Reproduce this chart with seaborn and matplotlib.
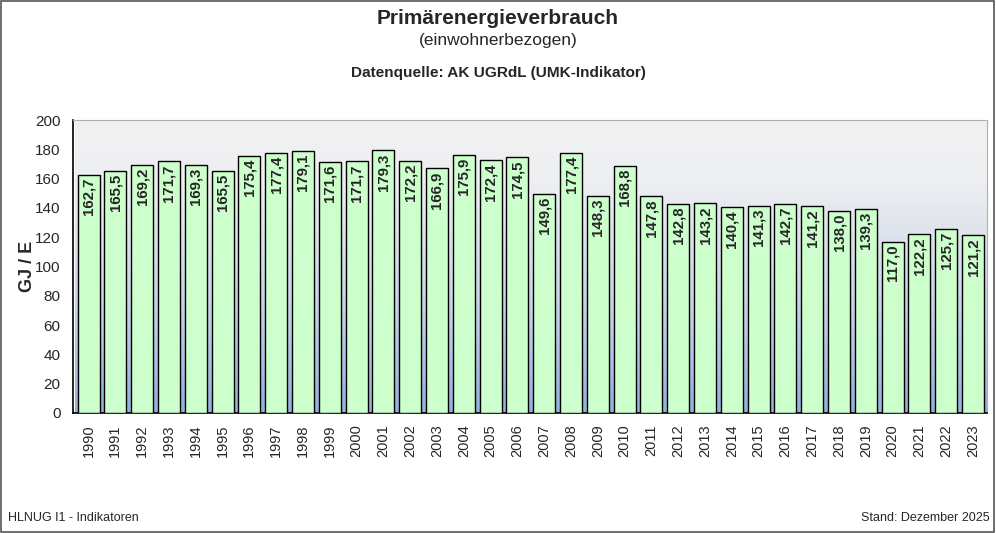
import numpy as np
import pandas as pd
import matplotlib
matplotlib.use("Agg")
import matplotlib.pyplot as plt
import seaborn as sns
from matplotlib.colors import LinearSegmentedColormap
from matplotlib.patches import Rectangle

years = [str(y) for y in range(1990, 2024)]
values = [162.7, 165.5, 169.2, 171.7, 169.3, 165.5, 175.4, 177.4, 179.1, 171.6,
          171.7, 179.3, 172.2, 166.9, 175.9, 172.4, 174.5, 149.6, 177.4, 148.3,
          168.8, 147.8, 142.8, 143.2, 140.4, 141.3, 142.7, 141.2, 138.0, 139.3,
          117.0, 122.2, 125.7, 121.2]
yticks = list(range(0, 201, 20))

sns.set_style("white")
plt.rcParams['font.family'] = ['Liberation Sans', 'DejaVu Sans']

fig = plt.figure(figsize=(9.96, 5.33), dpi=100)
ax = fig.add_axes([73/996, 1-413/533, (987-73)/996, (413-120)/533])

df = pd.DataFrame({"Jahr": years, "Wert": values})
sns.barplot(data=df, x="Jahr", y="Wert", color="#ccffcc", saturation=1,
            width=0.82, edgecolor="black", linewidth=1.0, ax=ax, zorder=3)

# background gradient
cmap = LinearSegmentedColormap.from_list("bg", [(0, "#94b0dc"), (0.35, "#c4d2e8"),
                                                 (0.6, "#dde3ec"), (0.8, "#eeeff2"), (1, "#f1f1f1")])
grad = np.linspace(0, 1, 256).reshape(-1, 1)
ax.imshow(grad, aspect="auto", cmap=cmap, origin="lower",
          extent=[-0.5, len(years) - 0.5, 0, 200], zorder=0)

ax.set_xlim(-0.58, len(years) - 0.48)
ax.set_ylim(0, 200)
ax.set_yticks(yticks)
ax.set_yticklabels([str(t) for t in yticks], fontsize=11)
ax.tick_params(axis="x", labelrotation=90, labelsize=10.5, direction="out", length=5, width=1, color="black", pad=3)
ax.tick_params(axis="y", direction="out", length=5, width=1, color="black", pad=4)
ax.set_xlabel("")
ax.set_ylabel("GJ / E", fontsize=13, fontweight="bold", labelpad=-1)

for s in ["top", "right"]:
    ax.spines[s].set_color("#b0b0b0")
for s in ["left", "bottom"]:
    ax.spines[s].set_color("black")
    ax.spines[s].set_linewidth(1.2)

for i, v in enumerate(values):
    ax.text(i, v - 2.0, f"{v:.1f}".replace(".", ","), rotation=90, ha="center", va="top",
            fontsize=10.8, fontweight="bold", zorder=5)

fig.text(0.5, 1-18/533, "Primärenergieverbrauch", ha="center", va="center", fontsize=15, fontweight="bold")
fig.text(0.5, 1-41/533, "(einwohnerbezogen)", ha="center", va="center", fontsize=12.5)
fig.text(0.5, 1-73/533, "Datenquelle: AK UGRdL (UMK-Indikator)", ha="center", va="center", fontsize=11.1, fontweight="bold")
fig.text(8/996, 1-518/533, "HLNUG I1 - Indikatoren", ha="left", va="center", fontsize=9)
fig.text(990/996, 1-518/533, "Stand: Dezember 2025", ha="right", va="center", fontsize=9)

fig.patches.append(Rectangle((0.001, 0.002), 0.997, 0.996, transform=fig.transFigure,
                             fill=False, edgecolor="#555555", linewidth=1.2))

fig.savefig("out.png", dpi=100)
